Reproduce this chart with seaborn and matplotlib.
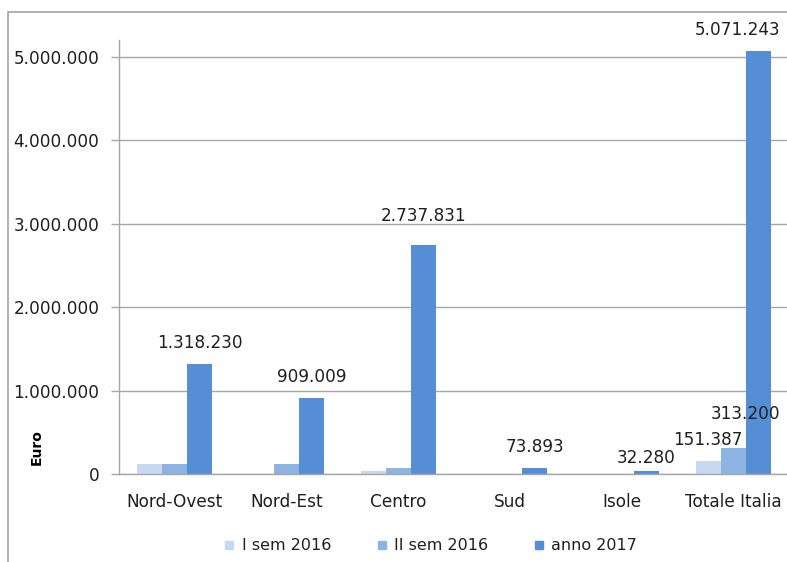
import matplotlib
matplotlib.use("Agg")
import matplotlib.pyplot as plt
import seaborn as sns
import pandas as pd
from matplotlib.ticker import FuncFormatter, FixedLocator
from matplotlib.lines import Line2D

# Data (Euro)
categories = ["Nord-Ovest", "Nord-Est", "Centro", "Sud", "Isole", "Totale Italia"]
series_names = ["I sem 2016", "II sem 2016", "anno 2017"]
i_sem_2016 = [120000, 0, 31387, 0, 0, 151387]
ii_sem_2016 = [120000, 120000, 73200, 0, 0, 313200]
anno_2017 = [1318230, 909009, 2737831, 73893, 32280, 5071243]

# Which bars carry a value label: (series, category)
labelled = [
    ("anno 2017", "Nord-Ovest"),
    ("anno 2017", "Nord-Est"),
    ("anno 2017", "Centro"),
    ("anno 2017", "Sud"),
    ("anno 2017", "Isole"),
    ("anno 2017", "Totale Italia"),
    ("I sem 2016", "Totale Italia"),
    ("II sem 2016", "Totale Italia"),
]
# label placement nudges in pixels (dx, dy above bar top)
label_offsets = {
    ("anno 2017", "Centro"): (0, 20),
    ("anno 2017", "Isole"): (0, 4),
    ("anno 2017", "Totale Italia"): (-21, 12),
    ("II sem 2016", "Totale Italia"): (12, 25),
}

colors = ["#c6d9f1", "#8db3e2", "#558ed5"]
text_color = "#1f1f1f"
grid_color = "#a6a6a6"
fs = 12.2

df = pd.DataFrame({
    "Area": categories * 3,
    "Serie": [s for s in series_names for _ in categories],
    "Euro": i_sem_2016 + ii_sem_2016 + anno_2017,
})

sns.set_theme(style="white")
plt.rcParams["font.family"] = ["DejaVu Sans"]

fig = plt.figure(figsize=(7.87, 5.62), dpi=100)
ax = fig.add_axes([119 / 787, 1 - 474 / 562, 670 / 787, 434 / 562])

sns.barplot(data=df, x="Area", y="Euro", hue="Serie", order=categories,
            hue_order=series_names, palette=colors, width=0.673, gap=0,
            saturation=1, ax=ax, legend=False, errorbar=None, linewidth=0)

ax.set_xlim(-0.5, 5.5)
ax.set_ylim(0, 5.2e6)

fmt = FuncFormatter(lambda v, p: f"{v:,.0f}".replace(",", "."))
ax.yaxis.set_major_locator(FixedLocator([0, 1e6, 2e6, 3e6, 4e6, 5e6]))
ax.yaxis.set_major_formatter(fmt)
ax.yaxis.grid(True, color=grid_color, linewidth=1)
ax.set_axisbelow(True)

ax.set_xticks(range(len(categories)))
ax.set_xticklabels(categories)
ax.set_xticks([i - 0.5 for i in range(len(categories) + 1)], minor=True)
ax.tick_params(axis="x", which="major", length=0, pad=14, labelsize=fs,
               labelcolor=text_color)
ax.tick_params(axis="x", which="minor", length=7, width=1, color=grid_color,
               direction="out")
ax.tick_params(axis="y", length=6, width=1, color=grid_color, direction="out",
               labelsize=fs, labelcolor=text_color, pad=8, left=True)
ax.set_xlabel("")
ax.set_ylabel("")

for side in ["top", "right"]:
    ax.spines[side].set_visible(False)
for side in ["left", "bottom"]:
    ax.spines[side].set_color(grid_color)
    ax.spines[side].set_linewidth(1)

# value labels
values = {"I sem 2016": i_sem_2016, "II sem 2016": ii_sem_2016, "anno 2017": anno_2017}
n = len(series_names)
bw = 0.673 / n
for serie, cat in labelled:
    si = series_names.index(serie)
    ci = categories.index(cat)
    v = values[serie][ci]
    x = ci - 0.673 / 2 + bw * (si + 0.5)
    dx, dy = label_offsets.get((serie, cat), (0, 12))
    ax.annotate(f"{v:,.0f}".replace(",", "."), (x, v), xytext=(dx, dy),
                textcoords="offset pixels", ha="center", va="bottom",
                fontsize=fs, color=text_color, annotation_clip=False)

fig.text(37 / 787, 1 - 447 / 562, "Euro", rotation=90, ha="center", va="center",
         fontsize=10, fontweight="bold", color="black")

handles = [Line2D([], [], marker="s", linestyle="none", markersize=6,
                  markerfacecolor=c, markeredgecolor=c) for c in colors]
fig.legend(handles, series_names, loc="center", bbox_to_anchor=(431 / 787, 1 - 546 / 562),
           ncol=3, frameon=False, fontsize=11.5, handletextpad=0.5,
           columnspacing=2.9, labelcolor=text_color, handlelength=0.55)

# outer chart border
fig.add_artist(Line2D([8 / 787, 8 / 787], [0, 1 - 12 / 562], transform=fig.transFigure,
                      color=grid_color, linewidth=1.2))
fig.add_artist(Line2D([8 / 787, 1], [1 - 12 / 562, 1 - 12 / 562], transform=fig.transFigure,
                      color=grid_color, linewidth=1.2))

fig.savefig("out.png", dpi=100)
